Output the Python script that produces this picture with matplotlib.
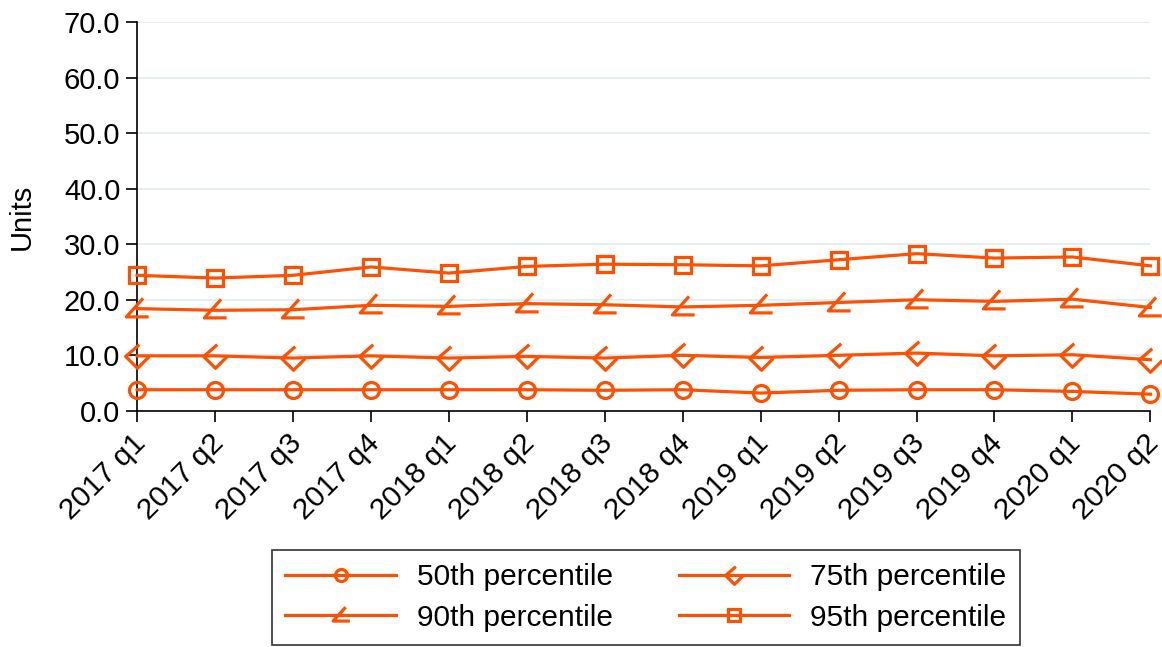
import matplotlib
matplotlib.use("Agg")
import matplotlib.pyplot as plt
import matplotlib.transforms as mtransforms
from matplotlib.path import Path

plt.rcParams['font.family'] = ['Liberation Sans', 'DejaVu Sans']

quarters = ['2017 q1', '2017 q2', '2017 q3', '2017 q4',
            '2018 q1', '2018 q2', '2018 q3', '2018 q4',
            '2019 q1', '2019 q2', '2019 q3', '2019 q4',
            '2020 q1', '2020 q2']

p50 = [3.8, 3.8, 3.8, 3.8, 3.8, 3.8, 3.7, 3.8, 3.2, 3.7, 3.8, 3.8, 3.5, 3.0]
p75 = [9.9, 9.9, 9.5, 9.9, 9.5, 9.8, 9.5, 10.0, 9.6, 10.0, 10.4, 9.9, 10.1, 9.2]
p90 = [18.4, 18.1, 18.2, 19.0, 18.8, 19.3, 19.1, 18.7, 19.0, 19.5, 20.0, 19.7, 20.1, 18.6]
p95 = [24.4, 23.9, 24.4, 25.9, 24.8, 26.0, 26.4, 26.3, 26.1, 27.2, 28.3, 27.5, 27.7, 26.1]

labels = ['50th percentile', '75th percentile', '90th percentile', '95th percentile']

orange = '#ff4f00'

# open diamond missing its upper-right edge
m75 = Path([(0.15, 1.0), (-1.0, 0.0), (0.0, -1.0), (1.0, 0.0)],
           [Path.MOVETO, Path.LINETO, Path.LINETO, Path.LINETO])
# triangle missing its right edge
m90 = Path([(0.45, 0.9), (-0.9, -0.6), (0.9, -0.6)],
           [Path.MOVETO, Path.LINETO, Path.LINETO])

fig = plt.figure(figsize=(11.62, 6.47), dpi=100)
ax = fig.add_axes([0.118, 0.365, 0.872, 0.601])

x = list(range(len(quarters)))
series = [(p50, 'o', 11.5), (p75, m75, 17), (p90, m90, 16), (p95, 's', 12)]
handles = []
for (vals, mk, ms), lab in zip(series, labels):
    h, = ax.plot(x, vals, color=orange, lw=2.3, marker=mk, markersize=ms,
                 markerfacecolor='none', markeredgecolor=orange, markeredgewidth=2.3,
                 label=lab, clip_on=False, zorder=3)
    handles.append(h)

ax.set_xlim(0, len(quarters) - 1)
ax.set_ylim(0, 70)
ax.set_yticks(range(0, 71, 10))
ax.set_yticklabels([f'{v:.1f}' for v in range(0, 71, 10)])
ax.set_xticks(x)
ax.set_xticklabels(quarters, rotation=45, ha='right', rotation_mode='anchor')
ax.tick_params(labelsize=21, length=8, width=1.2, direction='out', pad=4)
ax.tick_params(axis='x', labelsize=21.5, pad=3)
ax.set_ylabel('Units', fontsize=21, labelpad=20)

# nudge the rotated quarter labels a little left/down so the last one fits
shift = mtransforms.ScaledTranslation(-6 / 100, -3 / 100, fig.dpi_scale_trans)
for lbl in ax.get_xticklabels():
    lbl.set_transform(lbl.get_transform() + shift)

ax.grid(axis='y', color='#e6eef2', lw=1.5)
ax.set_axisbelow(True)
for s in ['top', 'right']:
    ax.spines[s].set_visible(False)
for s in ['left', 'bottom']:
    ax.spines[s].set_linewidth(1.2)

# row-wise order: 50th, 75th on top row, 90th, 95th below
order = [0, 2, 1, 3]
leg = fig.legend([handles[i] for i in order], [labels[i] for i in order],
                 loc='lower left', bbox_to_anchor=(0.234, 0.003), ncol=2,
                 borderaxespad=0,
                 fontsize=21.5, frameon=True, fancybox=False, edgecolor='black',
                 handlelength=3.7, handletextpad=0.7, columnspacing=2.2,
                 labelspacing=0.42, borderpad=0.45, markerscale=0.75)
leg.get_frame().set_linewidth(1.2)

fig.savefig('out.png', dpi=100)
